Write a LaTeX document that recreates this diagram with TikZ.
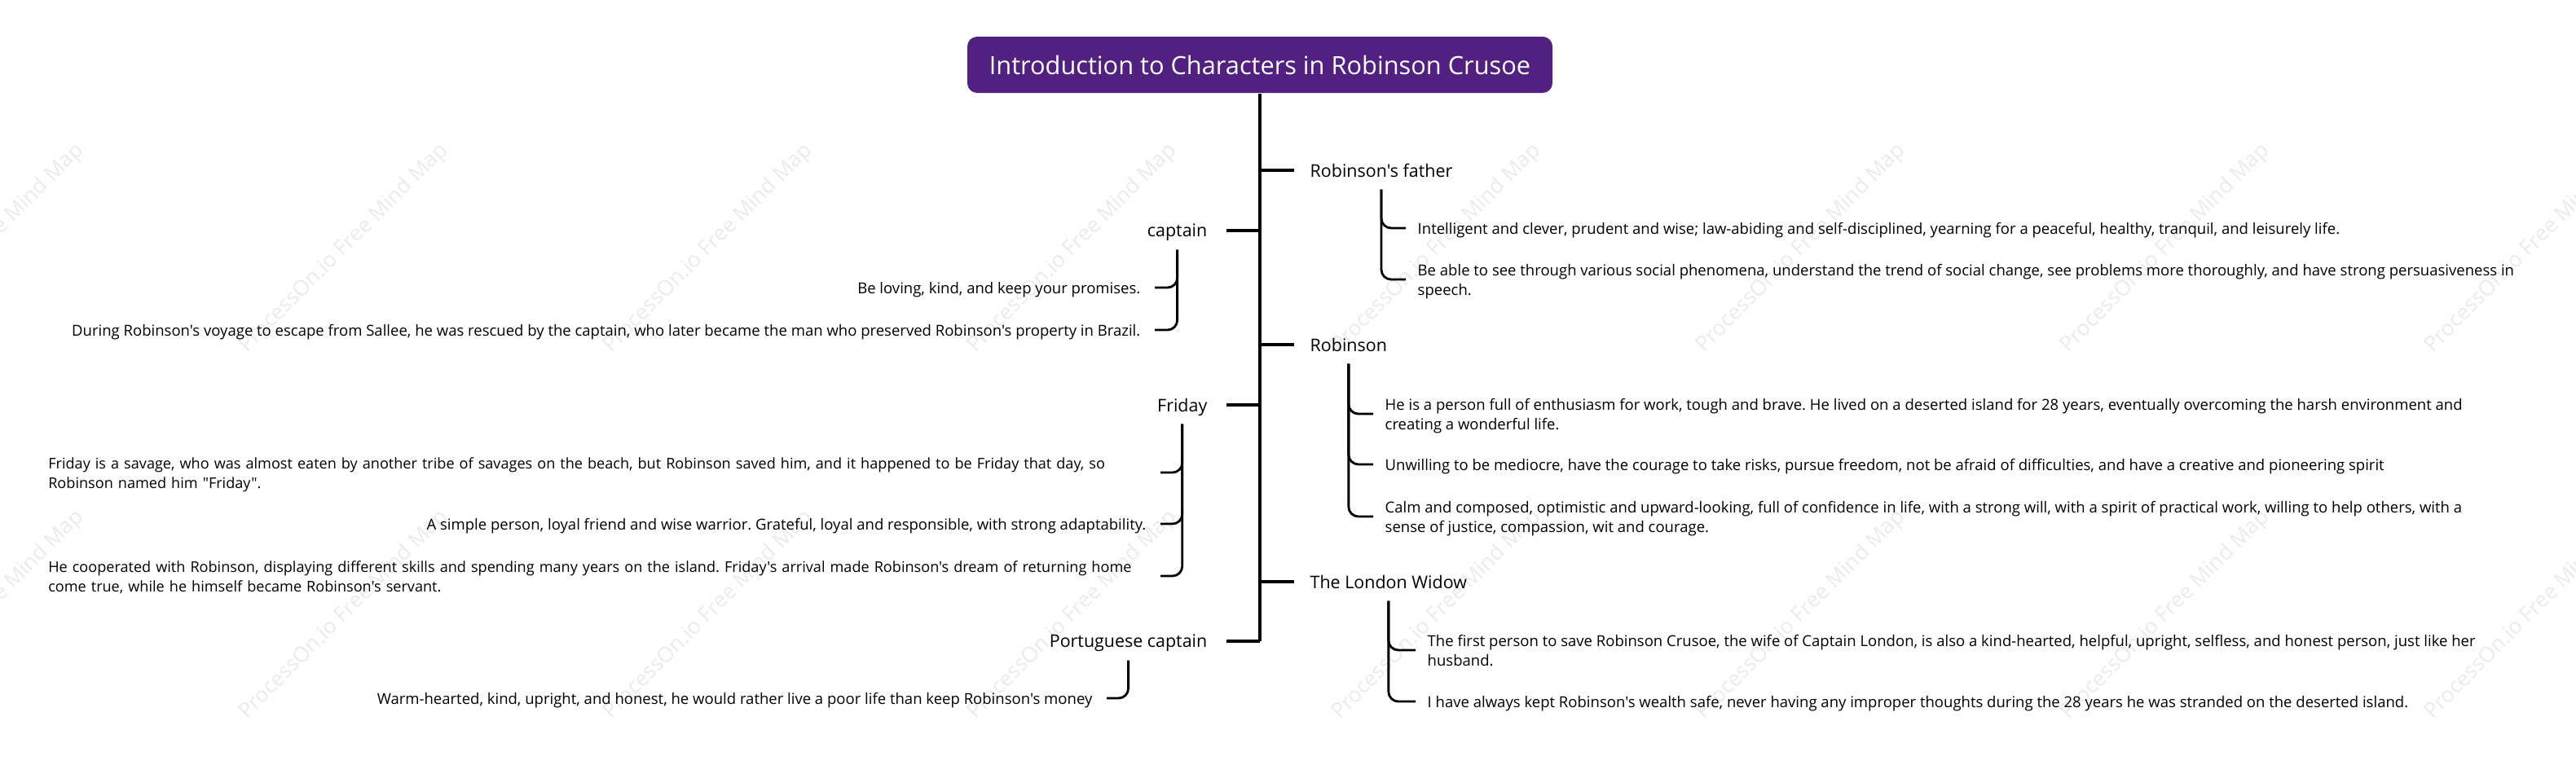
\documentclass[tikz,border=0pt]{standalone}
\usepackage{fontspec}
\setmainfont[Ligatures=TeXOff]{Open Sans}
\definecolor{rootpurple}{HTML}{512080}
\definecolor{markgray}{HTML}{EBEBEB}

\begin{document}
\frenchspacing
\begin{tikzpicture}[
    root_node/.style={fill=rootpurple, text=white, rounded corners=0.12cm, minimum width=7.18cm, minimum height=0.69cm, font=\fontsize{8.75pt}{10pt}\selectfont},
    topic/.style={minimum height=0.46cm, inner ysep=0pt, font=\fontsize{6.1pt}{7.5pt}\selectfont},
    topic_r/.style={topic, anchor=west, inner xsep=0.19cm},
    topic_l/.style={topic, anchor=east, inner xsep=0.23cm, text depth=0pt},
    leaf/.style={inner ysep=0pt, align=left, text depth=0pt, font=\fontsize{5.27pt}{6.83pt}\selectfont},
    leaf_r/.style={leaf, anchor=west, inner xsep=0.14cm},
    leaf_l/.style={leaf, anchor=east, inner xsep=0.17cm},
    leaf_wide/.style={leaf_l, text width=13.47cm, text depth=0.22cm, font=\fontsize{5.15pt}{6.83pt}\selectfont},
    trunk/.style={black, line width=1pt},
    branch/.style={black, line width=0.95pt},
    bracket/.style={black, line width=0.8pt, rounded corners=0.12cm},
    watermark/.style={text=markgray, rotate=45, font=\fontsize{7.45pt}{9pt}\selectfont}
]
    \useasboundingbox (0,0) rectangle (31.61,-9.38);
    % Watermark
    \foreach \wx [count=\i] in {-0.25,4.22,8.69,13.16,17.63,22.10,26.57,31.04}
        \foreach \wy [count=\j] in {-3.05,-7.55}
            \node[watermark] (wm\i-\j) at (\wx,\wy) {ProcessOn.io Free Mind Map};
    % Root
    \node[root_node] (root) at (15.46,-0.795) {Introduction to Characters in Robinson Crusoe};
    \coordinate (trunk_end) at (15.46,-7.87);
    \draw[trunk] (root.south) -- (trunk_end);
    % Right topics
    \node[topic_r] (father) at (15.88,-2.09) {Robinson's father};
    \node[topic_r] (robinson) at (15.88,-4.23) {Robinson};
    \node[topic_r] (widow) at (15.88,-7.14) {The London Widow};
    % Left topics
    \node[topic_l] (captain) at (15.05,-2.83) {captain};
    \node[topic_l] (friday) at (15.05,-4.97) {Friday};
    \node[topic_l] (portuguese) at (15.05,-7.87) {Portuguese captain};
    % Topics to trunk
    \foreach \t in {father,robinson,widow}
        \draw[branch] (\t.west) -- (\t.west -| root.south);
    \foreach \t in {captain,friday,portuguese}
        \draw[branch] (\t.east) -- (\t.east -| root.south);
    % Robinson's father
    \node[leaf_r] (father_a) at (17.25,-2.80) {Intelligent and clever, prudent and wise; law-abiding and self-disciplined, yearning for a peaceful, healthy, tranquil, and leisurely life.};
    \node[leaf_r] (father_b) at (17.25,-3.43) {Be able to see through various social phenomena, understand the trend of social change, see problems more thoroughly, and have strong persuasiveness in\\speech.};
    % Robinson
    \node[leaf_r] (robinson_a) at (16.85,-5.08) {He is a person full of enthusiasm for work, tough and brave. He lived on a deserted island for 28 years, eventually overcoming the harsh environment and\\creating a wonderful life.};
    \node[leaf_r] (robinson_b) at (16.85,-5.70) {Unwilling to be mediocre, have the courage to take risks, pursue freedom, not be afraid of difficulties, and have a creative and pioneering spirit};
    \node[leaf_r] (robinson_c) at (16.85,-6.34) {Calm and composed, optimistic and upward-looking, full of confidence in life, with a strong will, with a spirit of practical work, willing to help others, with a\\sense of justice, compassion, wit and courage.};
    % The London Widow
    \node[leaf_r] (widow_a) at (17.37,-7.98) {The first person to save Robinson Crusoe, the wife of Captain London, is also a kind-hearted, helpful, upright, selfless, and honest person, just like her\\husband.};
    \node[leaf_r] (widow_b) at (17.37,-8.61) {I have always kept Robinson's wealth safe, never having any improper thoughts during the 28 years he was stranded on the deserted island.};
    % captain
    \node[leaf_l] (captain_a) at (14.17,-3.53) {Be loving, kind, and keep your promises.};
    \node[leaf_l] (captain_b) at (14.17,-4.05) {During Robinson's voyage to escape from Sallee, he was rescued by the captain, who later became the man who preserved Robinson's property in Brazil.};
    % Friday
    \node[leaf_wide] (friday_a) at (14.24,-5.80) {Friday is a savage, who was almost eaten by another tribe of savages on the beach, but Robinson saved him, and it happened to be Friday that day, so\\Robinson named him "Friday".};
    \node[leaf_l] (friday_b) at (14.24,-6.43) {A simple person, loyal friend and wise warrior. Grateful, loyal and responsible, with strong adaptability.};
    \node[leaf_wide] (friday_c) at (14.24,-7.07) {He cooperated with Robinson, displaying different skills and spending many years on the island. Friday's arrival made Robinson's dream of returning home\\come true, while he himself became Robinson's servant.};
    % Portuguese captain
    \node[leaf_l] (portuguese_a) at (13.58,-8.57) {Warm-hearted, kind, upright, and honest, he would rather live a poor life than keep Robinson's money};
    % Brackets
    \foreach \p/\c in {father/father_a,father/father_b,robinson/robinson_a,robinson/robinson_b,robinson/robinson_c,widow/widow_a,widow/widow_b}
        \draw[bracket] (\p.south) |- (\c.west);
    \foreach \p/\c in {captain/captain_a,captain/captain_b,friday/friday_a,friday/friday_b,friday/friday_c,portuguese/portuguese_a}
        \draw[bracket] (\p.south) |- (\c.east);
\end{tikzpicture}
\end{document}
